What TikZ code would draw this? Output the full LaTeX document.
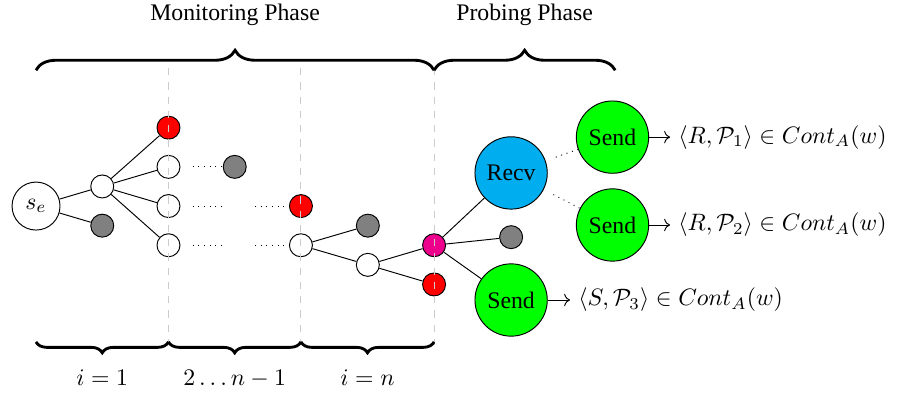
\documentclass[tikz,border=0pt]{standalone}
\usepackage{amsmath,amssymb}
\usepackage{fontspec}
\setmainfont{Liberation Serif}
\usepackage{tikz}
\usetikzlibrary{positioning,calc,decorations.pathreplacing,arrows.meta}

\definecolor{recvblue}{RGB}{0,174,239}
\definecolor{hubpink}{RGB}{236,0,140}

\tikzset{
  smallnode/.style={circle,draw,inner sep=0pt,minimum size=0.34cm},
  wnode/.style={smallnode,fill=white},
  rnode/.style={smallnode,fill=red},
  gnode/.style={smallnode,fill=gray},
  bignode/.style={circle,draw,inner sep=0pt,minimum size=1.07cm},
  sendnode/.style={bignode,fill=green},
  recvnode/.style={bignode,fill=recvblue},
  phaseline/.style={dashed,gray!40},
  bracetop/.style={decorate,decoration={brace,amplitude=8.4pt},very thick},
  bracebot/.style={decorate,decoration={brace,amplitude=4.6pt,mirror},very thick}
}

\begin{document}
\begin{tikzpicture}
    \useasboundingbox (-0.533,-2.916) rectangle (12.74,3.049);

    % Round i = 1
    \node[circle,draw,inner sep=0pt,minimum size=0.71cm] (se) at (0,0) {$s_e$};
    \node[wnode] (a1) at (0.98,0.29) {};
    \node[gnode] (a2) at (0.98,-0.29) {};
    \node[rnode] (b1) at (1.96,1.16) {};
    \node[wnode] (b2) at (1.96,0.58) {};
    \node[wnode] (b3) at (1.96,0) {};
    \node[wnode] (b4) at (1.96,-0.58) {};
    \draw (se) -- (a1);
    \draw (se) -- (a2);
    \draw (a1) -- (b1);
    \draw (a1) -- (b2);
    \draw (a1) -- (b3);
    \draw (a1) -- (b4);

    % Rounds 2 ... n-1
    \node[gnode] (c1) at (2.94,0.58) {};
    \node[rnode] (d1) at (3.92,0) {};
    \node[wnode] (d2) at (3.92,-0.58) {};
    \coordinate (gap1) at (2.75,0);
    \coordinate (gap2) at (3.24,0);
    \coordinate (gap3) at (2.75,-0.58);
    \coordinate (gap4) at (3.24,-0.58);
    \draw[dotted,shorten <=1.8mm] (b2) -- (c1);
    \draw[dotted,shorten <=1.8mm] (b3) -- (gap1);
    \draw[dotted] (gap2) -- (d1);
    \draw[dotted,shorten <=1.8mm] (b4) -- (gap3);
    \draw[dotted] (gap4) -- (d2);

    % Round i = n
    \node[gnode] (e1) at (4.91,-0.29) {};
    \node[wnode] (e2) at (4.91,-0.87) {};
    \node[smallnode,fill=hubpink] (f1) at (5.89,-0.58) {};
    \node[rnode] (f2) at (5.89,-1.16) {};
    \draw (d2) -- (e1);
    \draw (d2) -- (e2);
    \draw (e2) -- (f1);
    \draw (e2) -- (f2);

    % Probing
    \node[recvnode] (recv) at (7.03,0.49) {Recv};
    \node[gnode] (g1) at (7.03,-0.46) {};
    \node[sendnode] (send3) at (7.03,-1.39) {Send};
    \node[sendnode] (send1) at (8.53,1.02) {Send};
    \node[sendnode] (send2) at (8.53,-0.28) {Send};
    \draw (f1) -- (recv);
    \draw (f1) -- (g1);
    \draw (f1) -- (send3);
    \draw[dotted,shorten <=1.6mm] (recv) -- (send1);
    \draw[dotted,shorten <=1.6mm] (recv) -- (send2);

    \node[right=0.31cm of send1] (out1) {$\langle R,\mathcal{P}_1\rangle \in Cont_A(w)$};
    \node[right=0.31cm of send2] (out2) {$\langle R,\mathcal{P}_2\rangle \in Cont_A(w)$};
    \node[right=0.33cm of send3] (out3) {$\langle S,\mathcal{P}_3\rangle \in Cont_A(w)$};
    \draw[->] (send1) -- (out1);
    \draw[->] (send2) -- (out2);
    \draw[->] (send3) -- (out3);

    % Phase separators
    \foreach \x in {1.96,3.92,5.89}
        \draw[phaseline] (\x,2.04) -- (\x,-2.06);

    % Braces
    \draw[bracetop] (0,2.01) -- (5.89,2.01) node[midway,above=5.2mm] (mon) {Monitoring Phase};
    \draw[bracetop] (5.89,2.01) -- (8.57,2.01) node[midway,above=5.2mm] (prob) {Probing Phase};
    \draw[bracebot] (0,-2.01) -- (1.96,-2.01) node[midway,below=2.8mm] (r1) {$i = 1$};
    \draw[bracebot] (1.96,-2.01) -- (3.92,-2.01) node[midway,below=2.8mm] (r2) {$2\ldots n-1$};
    \draw[bracebot] (3.92,-2.01) -- (5.89,-2.01) node[midway,below=2.8mm] (r3) {$i = n$};
\end{tikzpicture}
\end{document}
